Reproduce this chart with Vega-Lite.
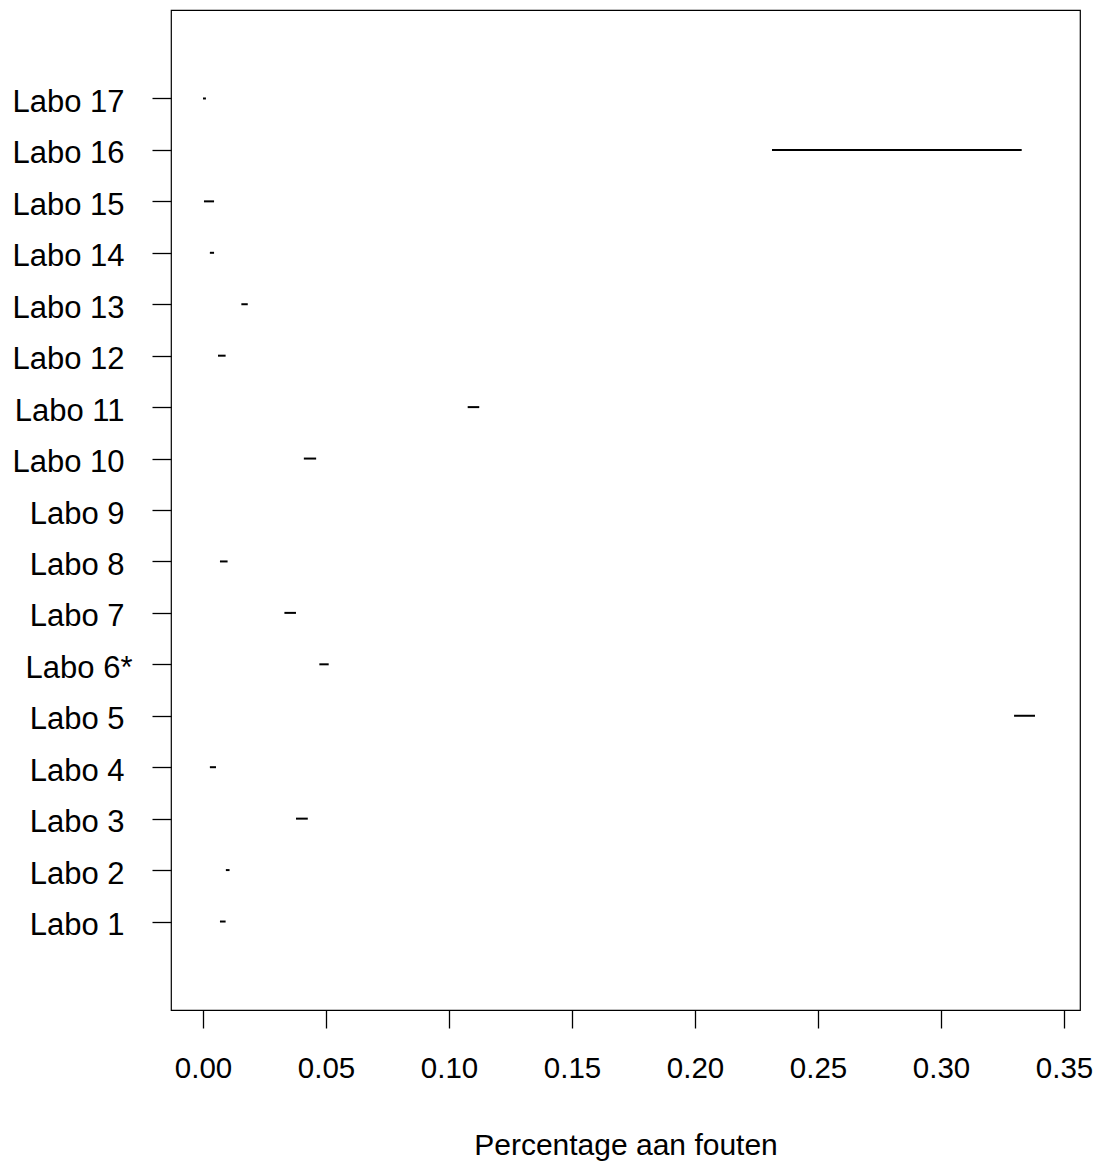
{
  "$schema": "https://vega.github.io/schema/vega-lite/v6.json",
  "autosize": "none",
  "padding": {"left": 171, "top": 10, "right": 21, "bottom": 156},
  "width": 909,
  "height": 1000,
  "background": "white",
  "config": {
    "view": {"stroke": "black", "strokeWidth": 1.2},
    "font": "Liberation Sans",
    "axis": {"grid": false, "domain": false, "tickColor": "black", "tickWidth": 1.3, "labelColor": "black", "titleColor": "black", "labelFont": "Liberation Sans", "titleFont": "Liberation Sans"}
  },
  "data": {
    "values": [
      {"lab": 1, "lo": 0.0069, "hi": 0.0092},
      {"lab": 2, "lo": 0.0093, "hi": 0.0108},
      {"lab": 3, "lo": 0.0378, "hi": 0.0426},
      {"lab": 4, "lo": 0.0028, "hi": 0.0053},
      {"lab": 5, "lo": 0.3297, "hi": 0.3382},
      {"lab": 6, "lo": 0.0473, "hi": 0.0511},
      {"lab": 7, "lo": 0.0331, "hi": 0.0378},
      {"lab": 8, "lo": 0.0069, "hi": 0.0100},
      {"lab": 10, "lo": 0.0410, "hi": 0.0460},
      {"lab": 11, "lo": 0.1076, "hi": 0.1123},
      {"lab": 12, "lo": 0.0061, "hi": 0.0092},
      {"lab": 13, "lo": 0.0156, "hi": 0.0182},
      {"lab": 14, "lo": 0.0028, "hi": 0.0045},
      {"lab": 15, "lo": 0.0004, "hi": 0.0045},
      {"lab": 16, "lo": 0.2313, "hi": 0.3328},
      {"lab": 17, "lo": 0.0000, "hi": 0.0012}
    ]
  },
  "mark": {"type": "rule", "color": "black", "strokeWidth": 2},
  "encoding": {
    "x": {
      "field": "lo", "type": "quantitative",
      "scale": {"domain": [-0.013, 0.3565], "nice": false, "zero": false},
      "axis": {
        "values": [0, 0.05, 0.1, 0.15, 0.2, 0.25, 0.3, 0.35],
        "format": ".2f",
        "tickSize": 18,
        "labelFontSize": 29.5,
        "labelPadding": 26,
        "title": "Percentage aan fouten",
        "titleFontSize": 30,
        "titleFontWeight": "normal",
        "titlePadding": 48
      }
    },
    "x2": {"field": "hi"},
    "y": {
      "field": "lab", "type": "quantitative",
      "scale": {"domain": [-0.72, 18.72], "nice": false, "zero": false},
      "axis": {
        "values": [1, 2, 3, 4, 5, 6, 7, 8, 9, 10, 11, 12, 13, 14, 15, 16, 17],
        "labelExpr": "datum.value == 6 ? 'Labo 6*' : 'Labo ' + datum.value",
        "tickSize": 19,
        "labelFontSize": 31,
        "labelPadding": {"condition": {"test": "datum.value == 6", "value": 20}, "value": 28},
        "labelBaseline": "middle",
        "labelOffset": 4,
        "title": null
      }
    }
  }
}
